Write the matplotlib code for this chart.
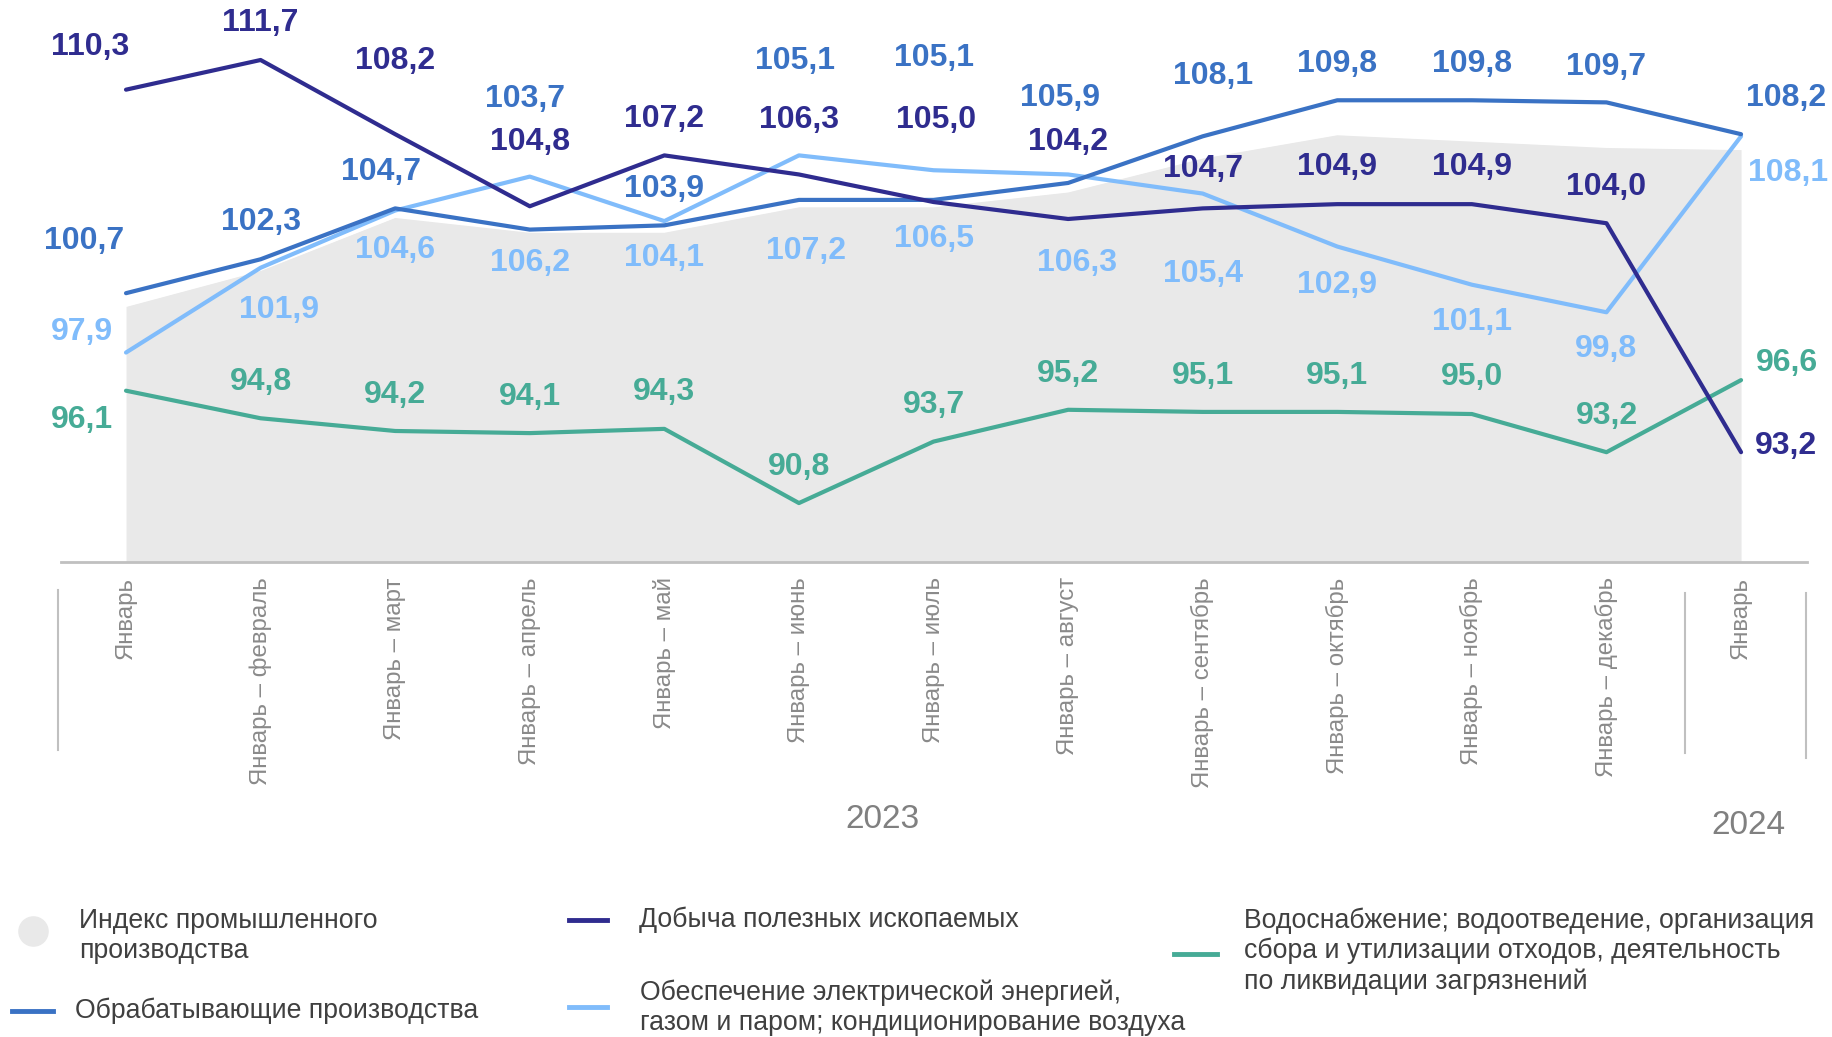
import numpy as np
import matplotlib.pyplot as plt
from matplotlib.lines import Line2D

plt.rcParams['font.family'] = ['Liberation Sans', 'DejaVu Sans']

# periods on the x axis
periods = ['Январь', 'Январь – февраль', 'Январь – март', 'Январь – апрель',
           'Январь – май', 'Январь – июнь', 'Январь – июль', 'Январь – август',
           'Январь – сентябрь', 'Январь – октябрь', 'Январь – ноябрь',
           'Январь – декабрь', 'Январь']

# series values (% to same period of previous year)
industry_index = [100.1, 101.8, 104.3, 103.6, 103.6, 104.8, 104.8, 105.5, 107.1, 108.2, 107.9, 107.6, 107.5]
mining = [110.3, 111.7, 108.2, 104.8, 107.2, 106.3, 105.0, 104.2, 104.7, 104.9, 104.9, 104.0, 93.2]
manufacturing = [100.7, 102.3, 104.7, 103.7, 103.9, 105.1, 105.1, 105.9, 108.1, 109.8, 109.8, 109.7, 108.2]
electricity = [97.9, 101.9, 104.6, 106.2, 104.1, 107.2, 106.5, 106.3, 105.4, 102.9, 101.1, 99.8, 108.1]
water = [96.1, 94.8, 94.2, 94.1, 94.3, 90.8, 93.7, 95.2, 95.1, 95.1, 95.0, 93.2, 96.6]

# label offsets in pixels (dx, dy; dy positive = down)
mining_off = [(-36, -43), (0, -37), (0, -73), (0, -64), (0, -36), (0, -54), (3, -82),
              (0, -77), (0, -39), (0, -37), (0, -37), (0, -36), (45, -6)]
manuf_off = [(-42, -52), (0, -37), (-14, -36), (-5, -131), (0, -36), (-4, -139), (0, -142),
             (-8, -85), (10, -60), (0, -36), (0, -36), (0, -35), (45, -36)]
elec_off = [(-44, -21), (18, 42), (0, 39), (0, 86), (0, 37), (7, 96), (0, 69),
            (9, 89), (0, 80), (0, 38), (0, 37), (0, 37), (47, 37)]
water_off = [(-44, 29), (0, -36), (0, -36), (0, -36), (0, -37), (0, -36), (0, -37),
             (0, -36), (0, -36), (0, -36), (0, -37), (0, -36), (46, -17)]

c_grey_area = '#e9e9e9'
c_mining = '#2f2c8f'
c_manuf = '#3a72c4'
c_elec = '#80bcfb'
c_water = '#46ab96'

W, H = 1832, 1037
fig = plt.figure(figsize=(W / 100, H / 100), dpi=100)
ax = fig.add_axes([61 / W, (H - 562) / H, (1807 - 61) / W, 562 / H])

x = np.arange(len(periods))
ymin, ymax = 88.02, 114.53
ax.set_xlim(-0.483, 12.49)
ax.set_ylim(ymin, ymax)

ax.fill_between(x, ymin, industry_index, color=c_grey_area, linewidth=0, zorder=1)
ax.plot(x, industry_index, color='white', lw=1.5, zorder=1.5)

series = [(electricity, c_elec, elec_off),
          (water, c_water, water_off),
          (manufacturing, c_manuf, manuf_off),
          (mining, c_mining, mining_off)]
for vals, col, offs in series:
    ax.plot(x, vals, color=col, lw=3, zorder=3, solid_capstyle='round')
    for xi, v, (dx, dy) in zip(x, vals, offs):
        ax.annotate(f'{v:.1f}'.replace('.', ','), (xi, v), xytext=(dx, -dy),
                    textcoords='offset pixels', ha='center', va='center',
                    fontsize=23, fontweight='bold', color=col)

for s in ['top', 'left', 'right']:
    ax.spines[s].set_visible(False)
ax.spines['bottom'].set_color('#c0c0c0')
ax.spines['bottom'].set_linewidth(2)
ax.set_yticks([])
ax.set_xticks(x)
ax.set_xticklabels(periods, rotation=90, va='top', ha='center')
ax.tick_params(axis='x', length=0, pad=11, labelsize=17.3, labelcolor='#8a8a8a')

# year separators and labels
for px, y0, y1 in [(58, 590, 750), (1685, 593, 753), (1806, 593, 758)]:
    fig.add_artist(Line2D([px / W, px / W], [1 - y0 / H, 1 - y1 / H],
                          transform=fig.transFigure, color='#c0c0c0', lw=1.5))
fig.text(882 / W, 1 - 820 / H, '2023', ha='center', va='center', fontsize=24, color='#808080')
fig.text(1748 / W, 1 - 826 / H, '2024', ha='center', va='center', fontsize=24, color='#808080')

# legend drawn by hand
legend_txt = '#404040'
fig.add_artist(Line2D([33 / W], [1 - 931 / H], marker='o', markersize=21, color=c_grey_area,
                      transform=fig.transFigure, linestyle='none'))
fig.text(79 / W, 1 - 936 / H, 'Индекс промышленного\nпроизводства', ha='left', va='center',
         fontsize=19.2, color=legend_txt, linespacing=1.2)

legend_lines = [
    (12, 53, 1011, c_manuf, 75, 1011, 'Обрабатывающие производства'),
    (569, 607, 920, c_mining, 639, 920, 'Добыча полезных ископаемых'),
    (569, 607, 1007, c_elec, 640, 1008,
     'Обеспечение электрической энергией,\nгазом и паром; кондиционирование воздуха'),
    (1174, 1217, 954, c_water, 1244, 951,
     'Водоснабжение; водоотведение, организация\nсбора и утилизации отходов, деятельность\nпо ликвидации загрязнений'),
]
for x0, x1, ly, col, tx, ty, txt in legend_lines:
    fig.add_artist(Line2D([x0 / W, x1 / W], [1 - ly / H, 1 - ly / H],
                          transform=fig.transFigure, color=col, lw=3.5))
    fig.text(tx / W, 1 - ty / H, txt, ha='left', va='center', fontsize=19.2,
             color=legend_txt, linespacing=1.2)

fig.savefig('out.png', dpi=100)
